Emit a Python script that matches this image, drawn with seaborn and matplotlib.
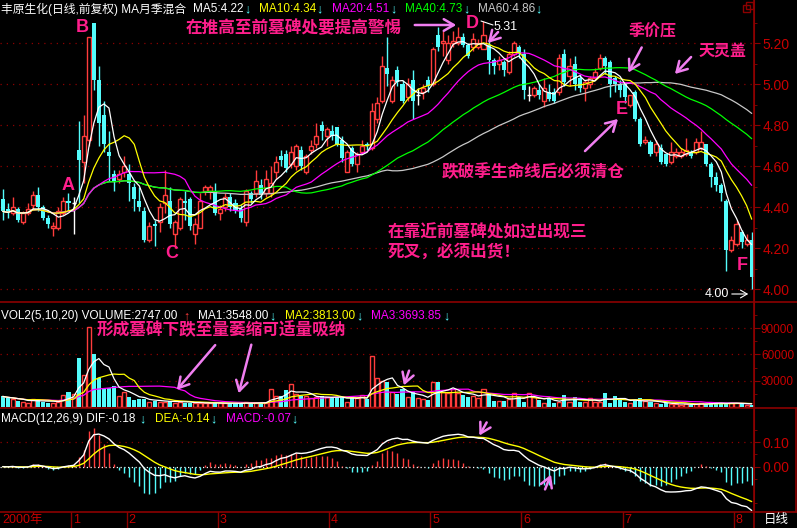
import numpy as np
import pandas as pd
import matplotlib
matplotlib.use("Agg")
import matplotlib.pyplot as plt
from matplotlib.ticker import FixedLocator, FormatStrFormatter
from matplotlib.patches import Rectangle
import seaborn as sns

# daily bars (Dec 1999 .. Aug 2000)
opens = [4.44, 4.39, 4.37, 4.39, 4.33, 4.37, 4.41, 4.46, 4.40, 4.35,
         4.30, 4.30, 4.37, 4.43, 4.42, 4.68, 4.62, 4.73, 5.30, 5.02,
         4.85, 4.67, 4.56, 4.54, 4.57, 4.56, 4.50, 4.43, 4.38, 4.24,
         4.32, 4.33, 4.42, 4.43, 4.27, 4.30, 4.43, 4.44, 4.27, 4.30,
         4.48, 4.48, 4.48, 4.37, 4.40, 4.45, 4.42, 4.39, 4.33, 4.47,
         4.47, 4.51, 4.47, 4.47, 4.57, 4.65, 4.66, 4.61, 4.60, 4.68,
         4.57, 4.68, 4.71, 4.80, 4.75, 4.77, 4.79, 4.73, 4.57, 4.69,
         4.61, 4.67, 4.71, 4.69, 4.83, 4.92, 5.08, 4.92, 5.07, 5.00,
         4.94, 5.02, 4.95, 4.96, 5.02, 5.00, 5.24, 5.20, 5.12, 5.20,
         5.20, 5.23, 5.19, 5.18, 5.18, 5.17, 5.19, 5.12, 5.10, 5.11,
         5.06, 5.15, 5.18, 5.15, 4.95, 4.95, 4.97, 4.92, 4.96, 4.96,
         4.96, 5.15, 5.04, 5.10, 5.03, 4.98, 5.00, 5.03, 5.08, 5.13,
         5.11, 5.03, 5.00, 5.00, 4.90, 4.96, 4.83, 4.72, 4.72, 4.67,
         4.69, 4.66, 4.62, 4.65, 4.65, 4.66, 4.67, 4.67, 4.69, 4.71,
         4.61, 4.55, 4.51, 4.43, 4.19, 4.22, 4.28, 4.22, 4.24]
highs = [4.49, 4.42, 4.45, 4.40, 4.38, 4.42, 4.48, 4.50, 4.41, 4.36,
         4.33, 4.40, 4.45, 4.47, 4.45, 4.82, 4.85, 5.23, 5.30, 5.09,
         4.92, 4.77, 4.58, 4.58, 4.65, 4.61, 4.52, 4.50, 4.40, 4.33,
         4.34, 4.42, 4.58, 4.50, 4.34, 4.45, 4.48, 4.45, 4.35, 4.47,
         4.51, 4.51, 4.52, 4.41, 4.47, 4.47, 4.44, 4.41, 4.49, 4.48,
         4.58, 4.54, 4.58, 4.60, 4.65, 4.68, 4.68, 4.70, 4.71, 4.70,
         4.66, 4.73, 4.81, 4.82, 4.79, 4.80, 4.79, 4.75, 4.68, 4.70,
         4.67, 4.73, 4.72, 4.91, 4.94, 5.14, 5.23, 5.04, 5.09, 5.02,
         5.03, 5.07, 4.98, 5.00, 5.04, 5.18, 5.28, 5.26, 5.24, 5.26,
         5.28, 5.25, 5.20, 5.25, 5.22, 5.31, 5.22, 5.13, 5.14, 5.12,
         5.16, 5.21, 5.19, 5.17, 4.99, 4.99, 5.00, 5.03, 5.00, 4.98,
         5.15, 5.17, 5.13, 5.14, 5.05, 5.02, 5.04, 5.08, 5.15, 5.14,
         5.12, 5.04, 5.02, 5.00, 4.95, 4.97, 4.84, 4.75, 4.73, 4.73,
         4.71, 4.66, 4.72, 4.69, 4.69, 4.74, 4.68, 4.74, 4.77, 4.71,
         4.62, 4.57, 4.52, 4.44, 4.26, 4.34, 4.29, 4.27, 4.28]
lows = [4.34, 4.35, 4.36, 4.33, 4.32, 4.36, 4.39, 4.38, 4.34, 4.30,
        4.26, 4.29, 4.36, 4.38, 4.27, 4.42, 4.52, 4.70, 4.97, 4.70,
        4.67, 4.53, 4.48, 4.52, 4.55, 4.43, 4.38, 4.38, 4.23, 4.23,
        4.21, 4.28, 4.37, 4.30, 4.20, 4.29, 4.34, 4.29, 4.22, 4.30,
        4.46, 4.44, 4.36, 4.34, 4.38, 4.38, 4.37, 4.33, 4.31, 4.42,
        4.45, 4.44, 4.45, 4.45, 4.54, 4.60, 4.57, 4.59, 4.58, 4.58,
        4.56, 4.66, 4.69, 4.73, 4.70, 4.73, 4.70, 4.62, 4.57, 4.60,
        4.57, 4.66, 4.68, 4.68, 4.81, 4.91, 4.99, 4.91, 4.99, 4.91,
        4.92, 4.83, 4.90, 4.93, 4.96, 4.99, 5.16, 5.14, 5.10, 5.18,
        5.19, 5.18, 5.13, 5.16, 5.17, 5.17, 5.05, 5.05, 5.07, 5.04,
        5.05, 5.14, 5.13, 4.93, 4.92, 4.94, 4.93, 4.89, 4.92, 4.91,
        4.95, 4.99, 4.99, 4.97, 4.96, 4.92, 4.98, 5.02, 5.07, 5.05,
        4.94, 4.96, 4.94, 4.91, 4.89, 4.82, 4.70, 4.71, 4.65, 4.65,
        4.61, 4.60, 4.61, 4.64, 4.64, 4.65, 4.64, 4.66, 4.68, 4.60,
        4.50, 4.48, 4.43, 4.09, 4.18, 4.21, 4.20, 4.21, 4.00]
closes = [4.38, 4.37, 4.40, 4.34, 4.37, 4.39, 4.46, 4.40, 4.35, 4.32,
          4.31, 4.38, 4.43, 4.42, 4.42, 4.63, 4.75, 5.23, 5.02, 4.81,
          4.71, 4.65, 4.53, 4.56, 4.60, 4.52, 4.44, 4.40, 4.24, 4.31,
          4.31, 4.40, 4.46, 4.32, 4.33, 4.44, 4.42, 4.31, 4.32, 4.43,
          4.50, 4.50, 4.37, 4.39, 4.45, 4.40, 4.38, 4.35, 4.48, 4.44,
          4.53, 4.46, 4.54, 4.52, 4.62, 4.63, 4.59, 4.67, 4.70, 4.60,
          4.65, 4.70, 4.75, 4.77, 4.78, 4.75, 4.71, 4.64, 4.67, 4.61,
          4.66, 4.70, 4.70, 4.87, 4.91, 5.09, 5.05, 5.02, 5.01, 4.92,
          5.00, 4.92, 4.95, 4.98, 4.99, 5.17, 5.18, 5.21, 5.20, 5.21,
          5.23, 5.19, 5.14, 5.22, 5.20, 5.24, 5.12, 5.09, 5.12, 5.07,
          5.15, 5.20, 5.15, 4.97, 4.95, 4.98, 4.95, 4.98, 4.93, 4.92,
          5.13, 5.01, 5.09, 5.00, 4.98, 5.01, 5.03, 5.06, 5.13, 5.09,
          5.00, 5.00, 4.97, 4.94, 4.95, 4.83, 4.71, 4.73, 4.66, 4.71,
          4.62, 4.61, 4.67, 4.67, 4.67, 4.68, 4.65, 4.72, 4.72, 4.61,
          4.55, 4.51, 4.47, 4.19, 4.24, 4.32, 4.23, 4.24, 4.06]
volumes = [12000, 10000, 9000, 7000, 6000, 5000, 9000, 8000, 6000, 5000,
           5000, 6000, 14000, 17000, 15000, 55600, 36000, 91000, 61000, 33000,
           21500, 22000, 24000, 13000, 17000, 11000, 8000, 9000, 9000, 6000,
           7000, 6000, 6000, 7000, 5000, 6000, 5000, 5000, 4000, 5000,
           4000, 4000, 5000, 4000, 4000, 4000, 3500, 4000, 6000, 3500,
           5000, 4000, 5000, 21000, 12000, 13000, 19000, 26000, 15000, 12500,
           12000, 10000, 11000, 12000, 11000, 11000, 11000, 11500, 6000, 11000,
           10000, 14000, 9000, 58000, 33000, 30000, 28000, 17000, 15000, 20000,
           11000, 17000, 10000, 9000, 8000, 28000, 28000, 17000, 16000, 20000,
           16000, 14000, 11000, 12000, 10000, 21000, 16000, 7000, 7000, 7000,
           9000, 16000, 11000, 6000, 16000, 11000, 8000, 5000, 10000, 4000,
           6000, 14000, 6000, 11000, 6000, 6000, 10000, 6000, 6000, 16000,
           5000, 13000, 8000, 6000, 5000, 6500, 10000, 6500, 6000, 4000,
           3000, 5000, 3000, 3500, 2500, 3000, 2500, 3000, 5000, 3000,
           4500, 5000, 4000, 4000, 4000, 4500, 4000, 2500, 2747]

month_labels = ["1", "2", "3", "4", "5", "6", "7", "8"]
month_starts = [14, 25, 43, 65, 85, 103, 123, 145]

price_ticks = [4.00, 4.20, 4.40, 4.60, 4.80, 5.00, 5.20]
vol_ticks = [30000, 60000, 90000]
macd_ticks = [0.00, 0.10]

ma_names = ["MA5:4.22", "MA10:4.34", "MA20:4.51", "MA40:4.73", "MA60:4.86"]
vol_names = ["MA1:3548.00", "MA2:3813.00", "MA3:3693.85"]
macd_names = ["DEA:-0.14", "MACD:-0.07"]

RED = "#ff3c3c"
CYAN = "#54fcfc"
DARKRED = "#8c0000"
AXRED = "#c80000"
PINK = "#ff1e8c"
VIOLET = "#f07ef0"
GREY = "#c8c8c8"

sns.set_style("dark", {"axes.facecolor": "black", "figure.facecolor": "black"})
plt.rcParams["font.family"] = ["Liberation Sans", "Noto Sans CJK SC", "DejaVu Sans"]

df = pd.DataFrame({"open": opens, "high": highs, "low": lows,
                   "close": closes, "vol": volumes})
df["idx"] = np.arange(len(df))
for n in (5, 10, 20, 40, 60):
    df[f"ma{n}"] = df["close"].rolling(n, min_periods=1).mean()
for n in (5, 10, 20):
    df[f"vma{n}"] = df["vol"].rolling(n, min_periods=1).mean()
ema12 = df["close"].ewm(span=12, adjust=False).mean()
ema26 = df["close"].ewm(span=26, adjust=False).mean()
df["dif"] = ema12 - ema26
df["dea"] = df["dif"].ewm(span=9, adjust=False).mean()
df["hist"] = 2 * (df["dif"] - df["dea"])

up = df["close"] > df["open"]
down = df["close"] < df["open"]
flat = df["close"] == df["open"]

W, H = 797, 528
RIGHT = 754
n = len(df)
step = (751.7 - 2.7) / (n - 1)
X0, X1 = -2.7 / step, (n - 1) + (RIGHT - 751.7) / step

fig = plt.figure(figsize=(W / 100, H / 100), dpi=100)
fig.patch.set_facecolor("black")


def panel(top, bottom):
    ax = fig.add_axes([0, 1 - bottom / H, RIGHT / W, (bottom - top) / H])
    ax.set_facecolor("black")
    ax.grid(False)
    for s in ("top", "left", "bottom"):
        ax.spines[s].set_visible(False)
    ax.spines["right"].set_color(DARKRED)
    ax.yaxis.tick_right()
    ax.tick_params(axis="y", which="both", colors=DARKRED, labelcolor=AXRED,
                   labelsize=10, direction="out", pad=2)
    ax.tick_params(axis="y", which="major", length=4)
    ax.tick_params(axis="y", which="minor", length=2)
    ax.tick_params(axis="x", bottom=False, labelbottom=False)
    ax.set_xlim(X0, X1)
    return ax


def finish(ax):
    ax.set_xlabel("")
    ax.set_ylabel("")
    ax.set_xlim(X0, X1)


# ---- price panel
ax_p = panel(0, 302)
ax_p.set_ylim(3.938, 5.411)
for t in price_ticks:
    ax_p.axhline(t, color=DARKRED, lw=0.9, ls=(0, (1, 4)), zorder=1)
wick_col = np.where(up, RED, np.where(down, CYAN, "white"))
ax_p.vlines(df["idx"], df["low"], df["high"], colors=wick_col, lw=1, zorder=2)
ax_p.bar(df["idx"][up], (df["close"] - df["open"])[up], bottom=df["open"][up],
         width=0.8, facecolor="black", edgecolor=RED, lw=1, zorder=3)
ax_p.bar(df["idx"][down], (df["open"] - df["close"])[down], bottom=df["close"][down],
         width=0.8, color=CYAN, lw=0, zorder=3)
ax_p.hlines(df["close"][flat], df["idx"][flat] - 0.4, df["idx"][flat] + 0.4,
            color="white", lw=1, zorder=3)
for col, c in [("ma60", GREY), ("ma40", "#00ff00"), ("ma20", "#ff00ff"),
               ("ma10", "#ffff00"), ("ma5", "white")]:
    sns.lineplot(x=df["idx"], y=df[col], ax=ax_p, color=c, lw=0.9,
                 legend=False, zorder=4)
ax_p.yaxis.set_major_locator(FixedLocator(price_ticks))
ax_p.yaxis.set_minor_locator(FixedLocator([4.1, 4.3, 4.5, 4.7, 4.9, 5.1, 5.3]))
ax_p.yaxis.set_major_formatter(FormatStrFormatter("%.2f"))
finish(ax_p)

# ---- volume panel
ax_v = panel(302, 408)
ax_v.set_ylim(-1260, 120100)
for t in vol_ticks:
    ax_v.axhline(t, color=DARKRED, lw=0.9, ls=(0, (1, 4)), zorder=1)
vup = df["close"] >= df["open"]
ax_v.bar(df["idx"][vup], df["vol"][vup], width=0.8, facecolor="black",
         edgecolor=RED, lw=1, zorder=2)
ax_v.bar(df["idx"][~vup], df["vol"][~vup], width=0.8, color=CYAN, lw=0, zorder=2)
for col, c in [("vma20", "#ff00ff"), ("vma10", "#ffff00"), ("vma5", "white")]:
    sns.lineplot(x=df["idx"], y=df[col], ax=ax_v, color=c, lw=0.9,
                 legend=False, zorder=4)
ax_v.yaxis.set_major_locator(FixedLocator(vol_ticks))
ax_v.yaxis.set_minor_locator(FixedLocator([15000, 45000, 75000, 105000]))
ax_v.yaxis.set_major_formatter(FormatStrFormatter("%d"))
ax_v.tick_params(axis="y", labelsize=8.5, pad=1)
finish(ax_v)

# ---- MACD panel
ax_m = panel(408, 512)
ax_m.set_ylim(-0.186, 0.2406)
ax_m.axhline(0.10, color=DARKRED, lw=0.9, ls=(0, (1, 4)), zorder=1)
ax_m.axhline(0.0, color="white", lw=0.9, ls=(0, (1, 2)), zorder=1)
hcol = np.where(df["hist"] >= 0, RED, CYAN)
ax_m.vlines(df["idx"], 0, df["hist"], colors=hcol, lw=1, zorder=2)
sns.lineplot(x=df["idx"], y=df["dea"], ax=ax_m, color="#ffff00", lw=1, legend=False, zorder=3)
sns.lineplot(x=df["idx"], y=df["dif"], ax=ax_m, color="white", lw=1, legend=False, zorder=4)
ax_m.yaxis.set_major_locator(FixedLocator(macd_ticks))
ax_m.yaxis.set_minor_locator(FixedLocator([0.05, 0.15, -0.05, -0.15]))
ax_m.yaxis.set_major_formatter(FormatStrFormatter("%.2f"))
finish(ax_m)

# ---- frame lines
for y in (302, 408, 512):
    fig.add_artist(plt.Line2D([0, 1], [1 - y / H, 1 - y / H], transform=fig.transFigure,
                              color=DARKRED, lw=1.2))
fig.add_artist(plt.Line2D([RIGHT / W, RIGHT / W], [0, 1], transform=fig.transFigure,
                          color=DARKRED, lw=1.2))
fig.add_artist(plt.Line2D([796 / W, 796 / W], [1 - 512 / H, 1 - 408 / H],
                          transform=fig.transFigure, color=DARKRED, lw=1.2))
for (rx, ry) in [(743, 5), (746, 2)]:
    fig.add_artist(Rectangle((rx / W, 1 - (ry + 7) / H), 7 / W, 7 / H, transform=fig.transFigure,
                             fill=False, edgecolor=DARKRED, lw=1))


def ftext(x, y, s, color, size=8.5, ha="left", **kw):
    fig.text(x / W, 1 - y / H, s, color=color, fontsize=size, ha=ha, va="center", **kw)


def farrow(x0, y0, x1, y1, color=VIOLET, lw=1.8, scale=12):
    fig.add_artist(matplotlib.patches.FancyArrowPatch(
        (x0 / W, 1 - y0 / H), (x1 / W, 1 - y1 / H), transform=fig.transFigure,
        arrowstyle="->,head_width=0.35,head_length=0.6", mutation_scale=scale,
        color=color, lw=lw))


# ---- date strip
ftext(2, 520, "2000年", AXRED, size=9)
for m, lab in zip(month_starts, month_labels):
    xpix = 2.7 + (m - 0.5) * step
    fig.add_artist(plt.Line2D([xpix / W, xpix / W], [0, 1 - 512 / H],
                              transform=fig.transFigure, color=DARKRED, lw=1))
    ftext(xpix + 2, 520, lab, AXRED, size=9)
ftext(776, 520, "日线", "white", size=9, ha="center")

# ---- headers
ftext(1, 9, "丰原生化(日线,前复权) MA月季混合", "white")
hdr_x = [193, 259, 332, 405, 478]
hdr_a = [247, 319, 393, 466, 538]
hdr_c = ["white", "#ffff00", "#ff00ff", "#00ff00", GREY]
for s, x, ax_, c in zip(ma_names, hdr_x, hdr_a, hdr_c):
    ftext(x, 9, s, c)
    ftext(ax_, 9, "↓", CYAN, size=9, ha="center")

ftext(1, 316, "VOL2(5,10,20) VOLUME:2747.00", "white")
ftext(186, 316, "↑", RED, size=9, ha="center")
for s, x, ax_, c in zip(vol_names, [198, 285, 371], [272, 359, 446],
                        ["white", "#ffff00", "#ff00ff"]):
    ftext(x, 316, s, c)
    ftext(ax_, 316, "↓", CYAN, size=9, ha="center")

ftext(1, 419, "MACD(12,26,9) DIF:-0.18", "white")
ftext(142, 419, "↓", CYAN, size=9, ha="center")
for s, x, ax_, c in zip(macd_names, [155, 226], [213, 294], ["#ffff00", "#ff00ff"]):
    ftext(x, 419, s, c)
    ftext(ax_, 419, "↓", CYAN, size=9, ha="center")

# ---- annotations
cjk = dict(family=["Noto Sans CJK SC"], fontweight="bold")
ftext(186, 28, "在推高至前墓碑处要提高警惕", PINK, size=12, **cjk)
ftext(442, 172, "跌破季生命线后必须清仓", PINK, size=12, **cjk)
ftext(388, 232, "在靠近前墓碑处如过出现三", PINK, size=12, **cjk)
ftext(388, 252, "死叉，必须出货！", PINK, size=12, **cjk)
ftext(653, 31, "季价压", PINK, size=11.5, ha="center", **cjk)
ftext(723, 52, "天灵盖", PINK, size=11.5, ha="center", **cjk)
ftext(97, 330, "形成墓碑下跌至量萎缩可适量吸纳", PINK, size=12, **cjk)

for lab, x, y in [("A", 68, 186), ("B", 82, 27), ("C", 172, 254),
                  ("D", 472, 24), ("E", 622, 109), ("F", 742, 265)]:
    ftext(x, y, lab, PINK, size=13, ha="center", fontweight="bold")

ftext(506, 27, "5.31", "white", size=9, ha="center")
fig.add_artist(plt.Line2D([481 / W, 493 / W], [1 - 21 / H, 1 - 25 / H],
                          transform=fig.transFigure, color="white", lw=0.8))
ftext(717, 294, "4.00", "white", size=9, ha="center")
farrow(729, 294, 751, 294, color="white", lw=0.8, scale=8)

farrow(412, 25, 459, 25)
farrow(500, 30, 486, 45)
farrow(643, 45, 627, 75)
farrow(693, 55, 673, 76)
farrow(583, 153, 620, 117)
farrow(217, 343, 175, 392)
farrow(252, 342, 238, 396)
farrow(410, 368, 403, 388)
farrow(488, 420, 478, 438)
farrow(544, 492, 552, 472)

fig.savefig("out.png", dpi=100, facecolor="black")
